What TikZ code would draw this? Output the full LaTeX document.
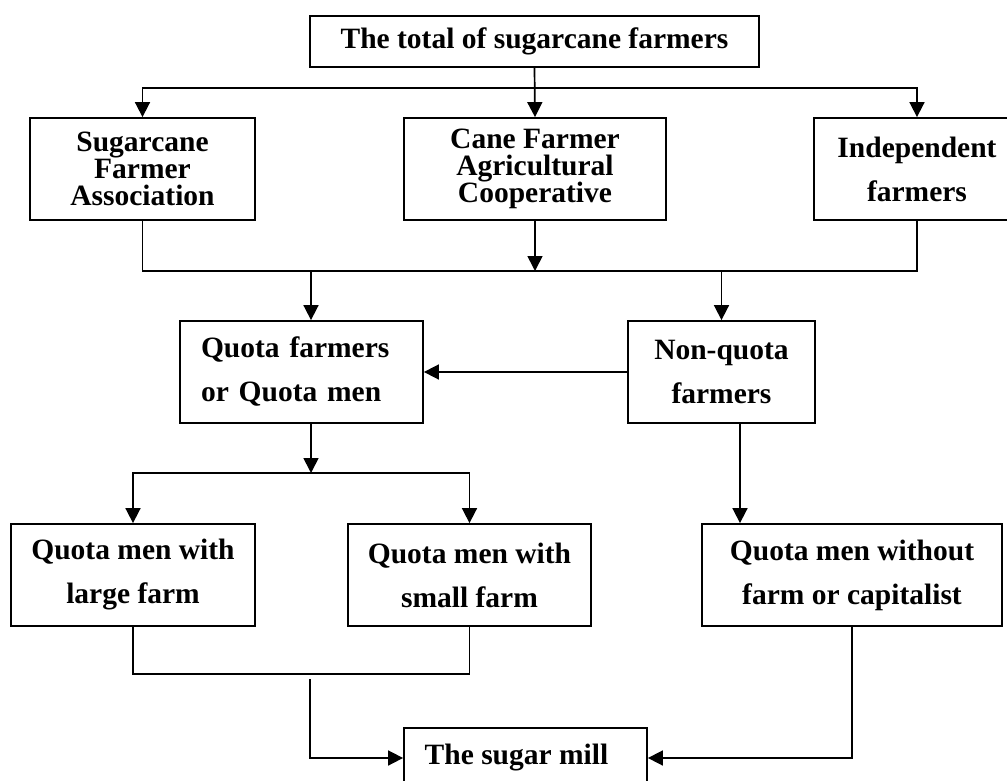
\documentclass[tikz,border=0pt]{standalone}
\usepackage{fontspec}
\setmainfont{Liberation Serif}
\usetikzlibrary{arrows.meta,calc}
\begin{document}
\begin{tikzpicture}[x=1pt,y=-1pt,
  box/.style={draw, line width=1.8pt, rectangle, inner sep=0pt, align=center,
    font=\fontsize{29.5}{44}\selectfont\bfseries},
  tightbox/.style={box, font=\fontsize{29.5}{27}\selectfont\bfseries},
  link/.style={line width=1.7pt},
  arr/.style={link, -{Triangle[length=15pt,width=15pt]}}]
\useasboundingbox (0,0) rectangle (1007,781);
\clip (0,0) rectangle (1007,781);
\fill[white] (0,0) rectangle (1007,781);

% boxes
\node[box, minimum width=449pt, minimum height=51pt] (top) at (534.5,41.5) {The total of sugarcane farmers};
\node[tightbox, minimum width=225pt, minimum height=102pt] (sfa) at (142.5,169) {Sugarcane\\Farmer\\Association};
\node[tightbox, minimum width=262pt, minimum height=102pt] (cfac) at (535,169) {Cane Farmer\\Agricultural\\Cooperative};
\node[box, minimum width=206pt, minimum height=102pt] (ind) at (917,169) {Independent\\farmers};
\node[box, align=left, text width=201pt, inner xsep=21pt, minimum height=102pt] (quota) at (301.5,372) {Quota farmers\\or Quota men};
\node[box, minimum width=187pt, minimum height=102pt] (nonq) at (721.5,372) {Non-quota\\farmers};
\node[box, minimum width=244pt, minimum height=102pt] (qlf) at (133,575) {Quota men with\\large farm};
\node[box, minimum width=243pt, minimum height=102pt] (qsf) at (469.5,575) {Quota men with\\small farm};
\node[box, minimum width=300pt, minimum height=102pt] (qwf) at (852,575) {Quota men without\\farm or capitalist};
\node[box, minimum width=243pt, minimum height=60pt] (mill) at (525.5,758) {The sugar mill\hspace*{18pt}};

% junction points
\coordinate (s1) at (534.5,88);
\coordinate (s2) at (0,271);
\coordinate (s3) at (311,271);
\coordinate (s4) at (721.5,271);
\coordinate (s5) at (311,473);
\coordinate (s6) at (0,674);
\coordinate (s7) at (310,679);
\coordinate (s8) at (740,0);

% top level split
\draw[arr] (top.south) -- (cfac.north);
\draw[arr] (s1) -| (sfa.north);
\draw[arr] (s1) -| (ind.north);

% collect the three groups
\draw[link] (sfa.south) |- (ind.south |- s2) -- (ind.south);
\draw[arr] (cfac.south) -- (cfac.south |- s2);
\draw[arr] (s3) -- (s3 |- quota.north);
\draw[arr] (s4) -- (nonq.north);
\draw[arr] (nonq.west) -- (quota.east);

% quota men split
\draw[arr] (s5 |- quota.south) -- (s5);
\draw[arr] (s5) -| (qlf.north);
\draw[arr] (s5) -| (qsf.north);
\draw[arr] (s8 |- nonq.south) -- (s8 |- qwf.north);

% to the mill
\draw[link] (qlf.south) |- (qsf.south |- s6) -- (qsf.south);
\draw[arr] (s7) |- (mill.west);
\draw[arr] (qwf.south) |- (mill.east);
\end{tikzpicture}
\end{document}
